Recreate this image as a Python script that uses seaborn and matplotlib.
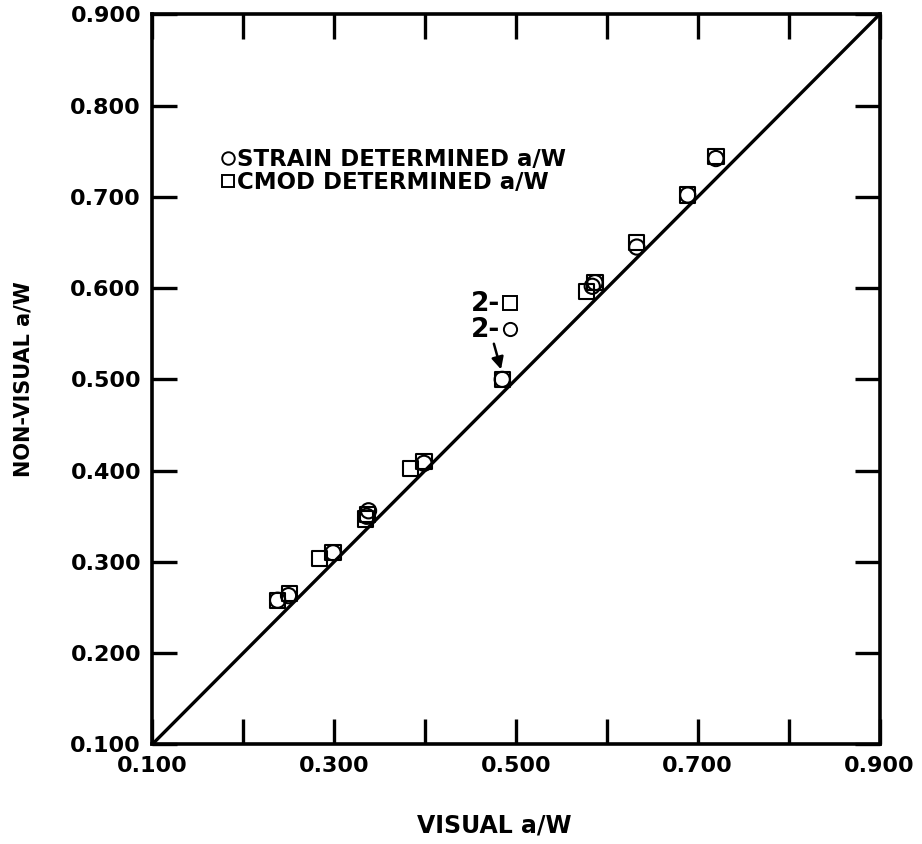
import numpy as np
import pandas as pd
import matplotlib
matplotlib.use("Agg")
import matplotlib.pyplot as plt
import seaborn as sns
from matplotlib.lines import Line2D

# Data
strain_visual = [0.238, 0.250, 0.299, 0.338, 0.336, 0.399, 0.485, 0.584, 0.587, 0.633, 0.689, 0.720]
strain_nonvisual = [0.258, 0.263, 0.310, 0.356, 0.350, 0.408, 0.500, 0.602, 0.606, 0.645, 0.702, 0.742]
cmod_visual = [0.238, 0.251, 0.284, 0.299, 0.335, 0.337, 0.384, 0.399, 0.485, 0.578, 0.587, 0.633, 0.689, 0.720]
cmod_nonvisual = [0.258, 0.265, 0.304, 0.310, 0.347, 0.352, 0.402, 0.410, 0.500, 0.596, 0.606, 0.650, 0.702, 0.744]
line_x = [0.1, 0.9]
line_y = [0.1, 0.9]
x_ticks = [0.1, 0.2, 0.3, 0.4, 0.5, 0.6, 0.7, 0.8, 0.9]
x_ticklabels = ["0.100", "", "0.300", "", "0.500", "", "0.700", "", "0.900"]
y_ticks = [0.1, 0.2, 0.3, 0.4, 0.5, 0.6, 0.7, 0.8, 0.9]
y_ticklabels = ["0.100", "0.200", "0.300", "0.400", "0.500", "0.600", "0.700", "0.800", "0.900"]
series_labels = ["STRAIN DETERMINED a/W", "CMOD DETERMINED a/W"]

sns.set_style("white")
plt.rcParams["font.family"] = ["DejaVu Sans"]
plt.rcParams.update({"text.color": "black", "axes.labelcolor": "black",
                     "xtick.color": "black", "ytick.color": "black"})

df = pd.DataFrame({
    "visual": strain_visual + cmod_visual,
    "nonvisual": strain_nonvisual + cmod_nonvisual,
    "series": [series_labels[0]] * len(strain_visual) + [series_labels[1]] * len(cmod_visual),
})

fig = plt.figure(figsize=(9.22, 8.44), dpi=100)
ax = fig.add_axes([0.165, 0.118, 0.789, 0.865])

sns.lineplot(x=line_x, y=line_y, ax=ax, color="black", linewidth=2.4, legend=False)
sns.scatterplot(data=df, x="visual", y="nonvisual", style="series",
                markers={series_labels[0]: "o", series_labels[1]: "s"},
                hue="series", palette={series_labels[0]: "black", series_labels[1]: "black"},
                s=120, linewidth=1.5, ax=ax, legend=False, zorder=3)
for coll in ax.collections:
    coll.set_facecolor("none")
    coll.set_edgecolor("black")

ax.set_xlim(0.1, 0.9)
ax.set_ylim(0.1, 0.9)
ax.set_xticks(x_ticks)
ax.set_xticklabels(x_ticklabels)
ax.set_yticks(y_ticks)
ax.set_yticklabels(y_ticklabels)
ax.tick_params(direction="in", length=18, width=2.4, top=True, right=True,
               bottom=True, left=True, labelsize=16, pad=8, color="black")
for lbl in ax.get_xticklabels() + ax.get_yticklabels():
    lbl.set_fontweight("bold")
for sp in ax.spines.values():
    sp.set_linewidth(2.6)
    sp.set_color("black")

ax.set_xlabel("VISUAL a/W", fontsize=17, fontweight="bold")
ax.xaxis.set_label_coords(0.47, -0.095)
ax.set_ylabel("NON-VISUAL a/W", fontsize=15, fontweight="bold")
ax.yaxis.set_label_coords(-0.163, 0.5)

handles = [Line2D([], [], marker="o", linestyle="none", markerfacecolor="none",
                  markeredgecolor="black", markersize=9, markeredgewidth=1.4),
           Line2D([], [], marker="s", linestyle="none", markerfacecolor="none",
                  markeredgecolor="black", markersize=9, markeredgewidth=1.4)]
ax.legend(handles, series_labels, loc="upper left", bbox_to_anchor=(0.08, 0.83),
          frameon=False, handletextpad=0.05, handlelength=0.7, borderaxespad=0,
          labelspacing=0.0, prop={"weight": "bold", "size": 16.5})

# annotation for specimen 2
ax.text(0.483, 0.583, "2-", fontsize=19, fontweight="bold", ha="right", va="center")
ax.text(0.483, 0.554, "2-", fontsize=19, fontweight="bold", ha="right", va="center")
ax.plot([0.4935], [0.584], marker="s", markersize=9.5, markerfacecolor="none",
        markeredgecolor="black", markeredgewidth=1.4, linestyle="none")
ax.plot([0.4935], [0.555], marker="o", markersize=9.5, markerfacecolor="none",
        markeredgecolor="black", markeredgewidth=1.4, linestyle="none")
ax.annotate("", xy=(0.4845, 0.508), xytext=(0.475, 0.542),
            arrowprops=dict(arrowstyle="-|>", color="black", lw=1.8, mutation_scale=18))

fig.savefig("out.png", dpi=100)
